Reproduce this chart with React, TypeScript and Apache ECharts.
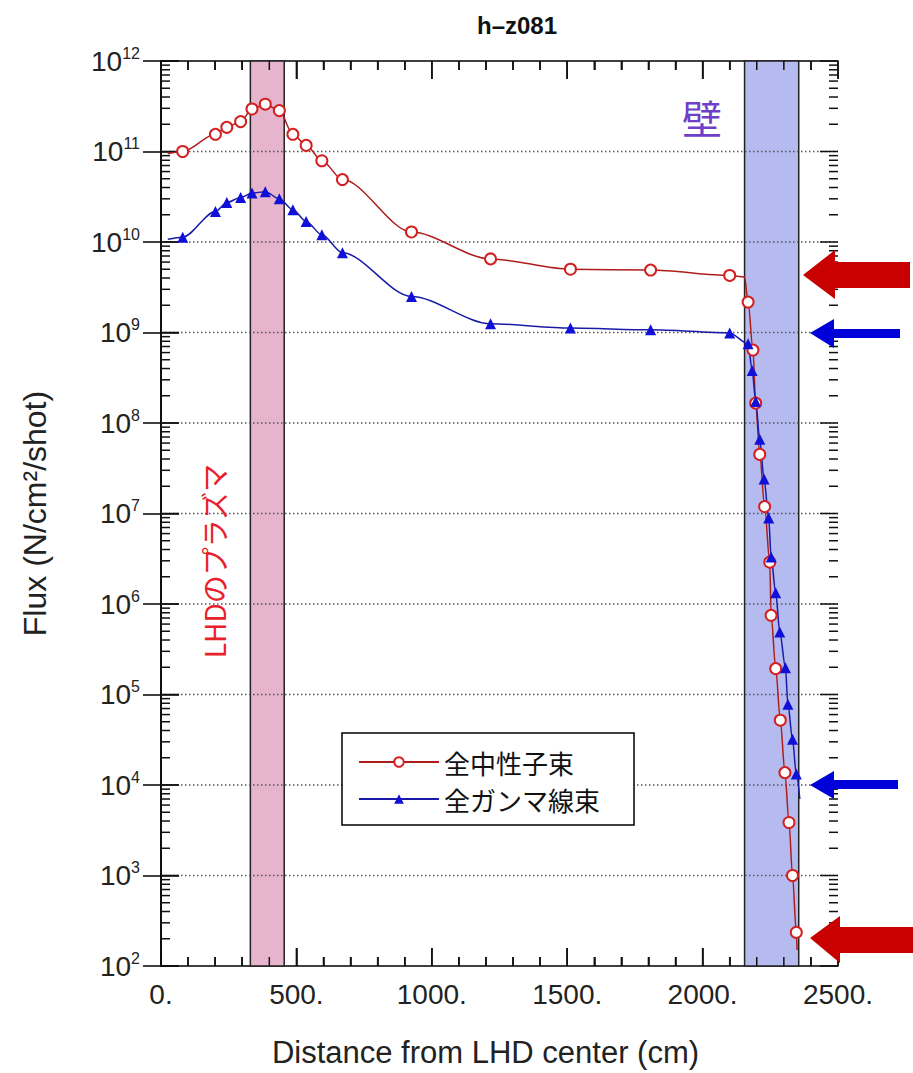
import { useEffect, useRef } from "react";
import * as echarts from "echarts";

// ---- data ----
const NEUTRON_X = [25, 80, 201, 243, 294, 336, 385, 437, 487, 536, 594, 670, 925, 1217, 1512, 1808, 2100, 2155, 2168, 2186, 2196, 2211, 2229, 2248, 2253, 2270, 2287, 2304, 2319, 2332, 2346, 2349];
const NEUTRON_Y = [9.5e10, 1.0e11, 1.55e11, 1.85e11, 2.14e11, 2.95e11, 3.33e11, 2.83e11, 1.55e11, 1.17e11, 7.9e10, 4.9e10, 1.29e10, 6.5e9, 5.0e9, 4.9e9, 4.27e9, 4.1e9, 2.17e9, 6.4e8, 1.66e8, 4.5e7, 1.19e7, 2.9e6, 7.5e5, 1.93e5, 5.2e4, 1.37e4, 3.85e3, 1.0e3, 2.35e2, 1.5e2];
const NEUTRON_UNMARKED = [25, 2155, 2349];

const GAMMA_X = [25, 80, 201, 243, 294, 336, 385, 437, 487, 536, 594, 670, 925, 1217, 1512, 1808, 2100, 2168, 2183, 2196, 2211, 2227, 2244, 2253, 2270, 2285, 2306, 2315, 2332, 2346, 2359];
const GAMMA_Y = [1.07e10, 1.13e10, 2.17e10, 2.73e10, 3.1e10, 3.47e10, 3.6e10, 3.0e10, 2.27e10, 1.69e10, 1.2e10, 7.6e9, 2.5e9, 1.25e9, 1.12e9, 1.07e9, 9.9e8, 7.5e8, 3.8e8, 1.73e8, 6.6e7, 2.4e7, 8.9e6, 3.3e6, 1.33e6, 4.9e5, 1.98e5, 7.8e4, 3.2e4, 1.32e4, 7e3];
const GAMMA_UNMARKED = [25, 2359];

const SERIES_NAMES = ["全中性子束", "全ガンマ線束"];
const BANDS = [[330, 455], [2155, 2355]];
const BAND_COLORS = ["#e6b4cd", "#b6bbef"];
const BAND_LABELS = ["LHDのプラズマ", "壁"];

const X_MIN = 0;
const X_MAX = 2500;
const X_INTERVAL = 500;
const X_MAJOR = [0, 500, 1000, 1500, 2000, 2500];
const X_MINOR_STEP = 100;
const Y_MIN = 1e2;
const Y_MAX = 1e12;
const Y_DECADES = [2, 3, 4, 5, 6, 7, 8, 9, 10, 11, 12];
const MINOR_MULT = [2, 3, 4, 5, 6, 7, 8, 9];

const TITLE = "h–z081";
const X_NAME = "Distance from LHD center (cm)";
const Y_NAME = "Flux (N/cm²/shot)";

const LATIN = "'Liberation Sans', Arial, sans-serif";
const CJK = "'Noto Sans CJK JP', sans-serif";

function buildData(xs: number[], ys: number[], unmarked: number[]) {
  return xs.map((x, i) =>
    unmarked.includes(x) ? { value: [x, ys[i]], symbol: "none" } : { value: [x, ys[i]] }
  );
}

export default function App() {
  const ref = useRef<HTMLDivElement>(null);

  useEffect(() => {
    if (!ref.current) return;
    const chart = echarts.init(ref.current, null, { renderer: "svg" });

    // y tick items: [x, value, major(1/0), side(0 left,1 right)]
    const yTicks: number[][] = [];
    Y_DECADES.forEach((e) => {
      [0, 1].forEach((s) => yTicks.push([X_MIN, Math.pow(10, e), 1, s]));
      if (e < Y_DECADES[Y_DECADES.length - 1])
        MINOR_MULT.forEach((m) => [0, 1].forEach((s) => yTicks.push([X_MIN, m * Math.pow(10, e), 0, s])));
    });
    const gridLines: number[][] = Y_DECADES.slice(1, -1).map((e) => [X_MIN, Math.pow(10, e)]);
    // x tick items: [x, y, major, side(0 bottom,1 top)]
    const xTicks: number[][] = [];
    for (let x = X_MIN; x <= X_MAX; x += X_MINOR_STEP)
      [0, 1].forEach((s) => xTicks.push([x, Y_MIN, X_MAJOR.includes(x) ? 1 : 0, s]));

    const tickCfg = { show: true, inside: true, length: 18, lineStyle: { color: "#000", width: 1.5 } };

    const xAxisCommon = {
      type: "value",
      min: X_MIN,
      max: X_MAX,
      interval: X_INTERVAL,
      axisLine: { show: true, lineStyle: { color: "#000", width: 1.5 } },
      axisTick: tickCfg,
      minorTick: { show: true, splitNumber: 5, length: 9, lineStyle: { color: "#000", width: 1.5 } },
      splitLine: { show: false },
    };
    const yAxisCommon = {
      type: "log",
      min: Y_MIN,
      max: Y_MAX,
      splitNumber: 10,
      axisLine: { show: true, lineStyle: { color: "#000", width: 1.5 } },
      axisTick: tickCfg,
      splitLine: { show: false },
    };

    const option: any = {
      animation: false,
      backgroundColor: "#fff",
      title: {
        text: TITLE,
        left: 512,
        top: 8,
        textAlign: "center",
        textStyle: { fontSize: 24, fontWeight: "bold", fontFamily: LATIN, color: "#111" },
      },
      grid: { left: 161, top: 61, right: 75, bottom: 106 },
      legend: {
        data: SERIES_NAMES,
        orient: "vertical",
        left: 342,
        top: 733,
        padding: [16, 34, 13, 16],
        itemGap: 11,
        itemWidth: 80,
        itemHeight: 12,
        backgroundColor: "#fff",
        borderColor: "#000",
        borderWidth: 1.5,
        borderRadius: 0,
        textStyle: { fontSize: 26, fontFamily: CJK, color: "#111" },
      },
      xAxis: [
        {
          ...xAxisCommon,
          axisLabel: {
            show: true,
            formatter: (v: number) => `${v}.`,
            fontSize: 28,
            fontFamily: LATIN,
            color: "#222",
            margin: 14,
          },
          name: X_NAME,
          nameLocation: "middle",
          nameGap: 71,
          nameTextStyle: { fontSize: 31, fontFamily: LATIN, color: "#222", padding: [0, 28, 0, 0] },
        },
        { ...xAxisCommon, position: "top", axisLabel: { show: false } },
      ],
      yAxis: [
        {
          ...yAxisCommon,
          axisLabel: {
            show: true,
            margin: 21,
            formatter: (v: number) => `{b|10}{e|${Math.round(Math.log10(v))}}`,
            rich: {
              b: { fontSize: 28, fontFamily: LATIN, color: "#222", lineHeight: 32 },
              e: { fontSize: 16, fontFamily: LATIN, color: "#222", verticalAlign: "top", lineHeight: 16 },
            },
          },
          name: Y_NAME,
          nameLocation: "middle",
          nameGap: 110,
          nameTextStyle: { fontSize: 32, fontFamily: LATIN, color: "#222" },
        },
        { ...yAxisCommon, position: "right", axisLabel: { show: false } },
      ],
      series: [
        {
          type: "custom",
          name: "bands",
          z: 1,
          data: BANDS,
          encode: { x: [0, 1] },
          renderItem: (params: any, api: any) => {
            const a = api.coord([api.value(0), Y_MAX]);
            const b = api.coord([api.value(1), Y_MIN]);
            return {
              type: "rect",
              shape: { x: a[0], y: a[1], width: b[0] - a[0], height: b[1] - a[1] },
              style: { fill: BAND_COLORS[params.dataIndex], stroke: "#222", lineWidth: 1.5 },
            };
          },
        },
        {
          type: "custom",
          name: "gridLines",
          z: 2,
          data: gridLines,
          renderItem: (params: any, api: any) => {
            const cs = params.coordSys;
            const y = api.coord([X_MIN, api.value(1)])[1];
            return {
              type: "line",
              shape: { x1: cs.x, y1: y, x2: cs.x + cs.width, y2: y },
              style: { stroke: "#555", lineWidth: 1.3, lineDash: [1.5, 2.5] },
            };
          },
        },
        {
          type: "custom",
          name: "yTicks",
          z: 3,
          data: yTicks,
          renderItem: (params: any, api: any) => {
            const cs = params.coordSys;
            const y = api.coord([X_MIN, api.value(1)])[1];
            const len = api.value(2) === 1 ? 18 : 9;
            const right = api.value(3) === 1;
            const x0 = right ? cs.x + cs.width - len : cs.x;
            return {
              type: "rect",
              shape: { x: x0, y: y - 0.75, width: len, height: 1.5 },
              style: { fill: "#111" },
            };
          },
        },
        {
          type: "custom",
          name: "xTicks",
          z: 3,
          data: xTicks,
          renderItem: (params: any, api: any) => {
            const cs = params.coordSys;
            const x = api.coord([api.value(0), Y_MIN])[0];
            const len = api.value(2) === 1 ? 18 : 9;
            const top = api.value(3) === 1;
            const y0 = top ? cs.y : cs.y + cs.height - len;
            return {
              type: "rect",
              shape: { x: x - 0.75, y: y0, width: 1.5, height: len },
              style: { fill: "#111" },
            };
          },
        },
        {
          type: "line",
          name: SERIES_NAMES[0],
          z: 6,
          data: buildData(NEUTRON_X, NEUTRON_Y, NEUTRON_UNMARKED),
          smooth: 0.3,
          smoothMonotone: "x",
          symbol: "emptyCircle",
          symbolSize: 11,
          lineStyle: { color: "#b01c1c", width: 1.5 },
          itemStyle: { color: "#d42020", borderColor: "#d42020", borderWidth: 2 },
        },
        {
          type: "line",
          name: SERIES_NAMES[1],
          z: 6,
          data: buildData(GAMMA_X, GAMMA_Y, GAMMA_UNMARKED),
          smooth: 0.3,
          smoothMonotone: "x",
          symbol: "triangle",
          symbolSize: 11,
          lineStyle: { color: "#1a1aa8", width: 1.5 },
          itemStyle: { color: "#1010d8" },
        },
      ],
      graphic: [
        {
          type: "text",
          x: 702,
          y: 117,
          z: 10,
          style: { text: BAND_LABELS[1], fontSize: 40, fontFamily: CJK, fill: "#6f3fc8", align: "center", verticalAlign: "middle" },
        },
        {
          type: "text",
          x: 214,
          y: 561,
          rotation: Math.PI / 2,
          z: 10,
          style: { text: BAND_LABELS[0], fontSize: 28, fontFamily: CJK, fill: "#e8202a", align: "center", verticalAlign: "middle" },
        },
        {
          type: "polygon",
          z: 10,
          shape: { points: [[803, 275], [835, 250], [835, 262], [910, 262], [910, 288], [835, 288], [835, 299]] },
          style: { fill: "#c80000" },
        },
        {
          type: "polygon",
          z: 10,
          shape: { points: [[810, 333], [834, 319], [834, 329], [900, 329], [900, 338], [834, 338], [834, 348]] },
          style: { fill: "#0000d8" },
        },
        {
          type: "polygon",
          z: 10,
          shape: { points: [[810, 785], [834, 771], [834, 780], [898, 780], [898, 789], [834, 789], [834, 799]] },
          style: { fill: "#0000d8" },
        },
        {
          type: "polygon",
          z: 10,
          shape: { points: [[810, 938], [840, 916], [840, 927], [913, 927], [913, 953], [840, 953], [840, 963]] },
          style: { fill: "#c80000" },
        },
      ],
    };

    chart.setOption(option);
    return () => chart.dispose();
  }, []);

  return (
    <div
      ref={ref}
      style={{ position: "absolute", left: 0, top: 0, width: 913, height: 1073 }}
    />
  );
}
